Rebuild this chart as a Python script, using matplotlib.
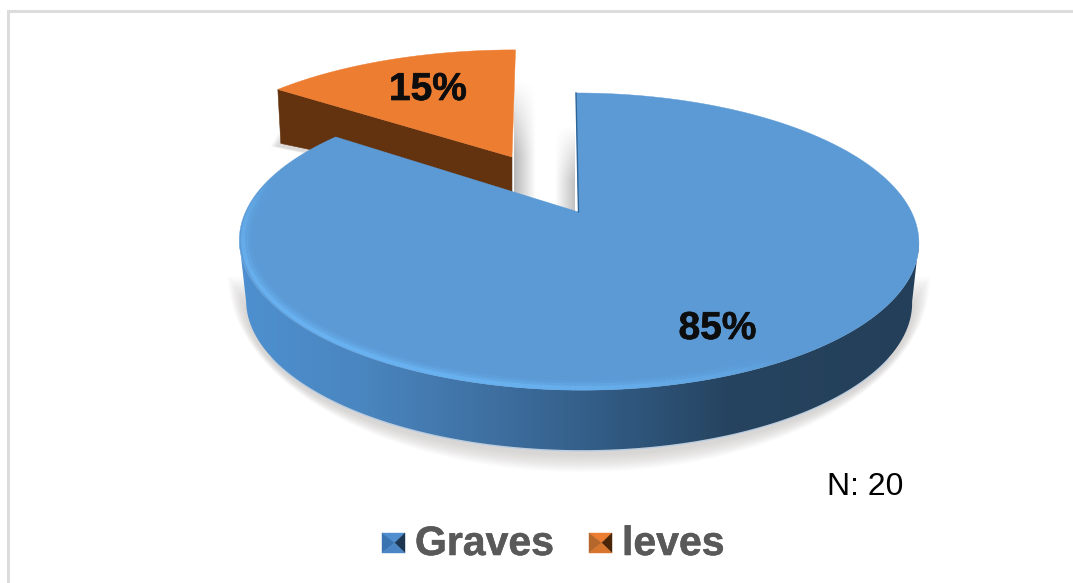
import numpy as np
import matplotlib
matplotlib.use("Agg")
import matplotlib.pyplot as plt
from matplotlib.patches import Polygon, Rectangle
from matplotlib.collections import LineCollection
from matplotlib.colors import LinearSegmentedColormap
import matplotlib.patheffects as pe

categories = ["Graves", "leves"]
percentages = [85, 15]
sample_label = "N: 20"

W, H = 1073, 583
fig = plt.figure(figsize=(W / 100, H / 100), dpi=100, facecolor="white")
ax = fig.add_axes([0, 0, 1, 1])
plt.rcParams["font.family"] = ["Liberation Sans", "DejaVu Sans"]

# projection of the pie plane onto the picture
CX, CY, RX, RY, K = 578.5, 212.0, 333.0, 142.7, 0.199


def project(theta, r=1.0):
    u, v = r * np.sin(theta), r * np.cos(theta)
    w = 1 + K * v
    return CX + RX * u / w - 3 * v / w, CY - RY * v / w


def wedge(start, stop, n=160):
    t = np.radians(np.linspace(start, stop, n))
    return project(t)


def orange_map(x, y):
    return (CX - 66.5 + (x - CX) * 0.98 + (CY - y) * 0.05,
            CY - 55 + (y - CY) * 0.90)


def soft_shadow(x, y, dy, steps, grow, alpha, color="#6e6a66", z=1):
    mx, my = x.mean(), y.mean()
    for i in range(steps):
        g = grow * (1 - i / steps)
        sx = mx + (x - mx) * (1 + g / (x.max() - mx))
        sy = my + (y - my) * (1 + g / (y.max() - my)) + dy
        ax.add_patch(Polygon(np.c_[sx, sy], closed=True, fc=color, ec="none",
                             alpha=alpha, zorder=z))


def fade_patch(x0, x1, y0, y1, peak, z=2):
    """Soft grey cast shadow: darkest at the x1 edge, fading upward and toward x0."""
    gx = np.linspace(0, 1, 40)[None, :]
    gy = np.clip(np.linspace(0, 1.6, 40), 0, 1)[:, None]
    rgba = np.ones((40, 40, 4)) * 0.6
    rgba[..., 3] = peak * gx * gy
    ax.imshow(rgba, extent=(x0, x1, y1, y0), aspect="auto", zorder=z, interpolation="bilinear")


def icon(x0, y0, w, h, top, left, right, bottom, z=8):
    c = (x0 + w * 0.55, y0 + h * 0.5)
    a, b, d, e = (x0, y0), (x0 + w, y0), (x0 + w, y0 + h), (x0, y0 + h)
    for pts, col in [((a, b, c), top), ((a, e, c), left),
                     ((b, d, c), right), ((e, d, c), bottom)]:
        ax.add_patch(Polygon(pts, closed=True, fc=col, ec=col, lw=0.3, zorder=z))


total = sum(percentages)
split = 360.0 * percentages[0] / total  # graves runs clockwise from the top

# frame
ax.add_patch(Rectangle((7.5, 10.5), W + 20, H + 20, fc="white", ec="#dcdcdc", lw=2.2, zorder=0))

# ---- leves slice
tx, ty = wedge(split, 360)
ox, oy = orange_map(tx, ty)
tipx, tipy = orange_map(np.array([CX]), np.array([CY]))
top_o = np.r_[ox, tipx]
top_oy = np.r_[oy, tipy]
soft_shadow(np.r_[ox[0], tipx[0], ox[0] + 30], np.r_[oy[0] + 54, tipy[0] + 30, oy[0] + 10] + 3,
            0, 10, 12, 0.022, z=1)
front = np.array([[ox[0], oy[0]], [tipx[0], tipy[0]],
                  [tipx[0] + 0.0, tipy[0] + 35], [ox[0] + 3, oy[0] + 54]])
ax.add_patch(Polygon(front, closed=True, fc="#63330f", ec="#63330f", lw=0.4, zorder=3))
ax.add_patch(Polygon(np.c_[top_o, top_oy], closed=True, fc="#ed7d31", ec="#ed7d31", lw=0.3, zorder=4))

# ---- cast shadows in the opening
fade_patch(555, 575, 125, 215, 0.6)
fade_patch(536, 514, 80, 200, 0.7)

# ---- graves slice
rx, ry = wedge(0, split, 300)
side_t = np.radians(np.linspace(101.5, 258.5, 300))
sx, sy = project(side_t)
bx = CX + (sx - CX) * 0.98
by = sy + 60
soft_shadow(bx, by, 4, 16, 18, 0.016, z=2.5)
side_poly = Polygon(np.c_[np.r_[sx, bx[::-1]], np.r_[sy, by[::-1]]], closed=True,
                    fc="none", ec="none", zorder=5)
ax.add_patch(side_poly)
cmap = LinearSegmentedColormap.from_list("side", [
    (0.0, "#4e90d0"), (0.18, "#4a86c0"), (0.36, "#3f71a3"),
    (0.55, "#315a82"), (0.72, "#264460"), (1.0, "#243f59")])
grad = np.linspace(0, 1, 512).reshape(1, -1)
img = ax.imshow(grad, extent=(238, 920, 480, 130), cmap=cmap, aspect="auto", zorder=5)
img.set_clip_path(side_poly)

# pale fringe at the foot of the side
ax.plot(bx[40:260], by[40:260] + 0.8, color="#a9c7e6", lw=0.9, alpha=0.7, zorder=4.9)

top_x = np.r_[rx, CX]
top_y = np.r_[ry, CY]
ax.add_patch(Polygon(np.c_[top_x, top_y], closed=True, fc="#5b9ad5", ec="#5b9ad5", lw=0.3, zorder=6))

# inner wall line
ax.plot([rx[0], CX], [ry[0], CY], color="#2f6596", lw=1.0, zorder=6.5)

# light bevel along the front-left rim, soft and tapering away at both ends
bt = np.radians(np.linspace(283, 150, 220))
for r, lw, al in [(0.980, 7.0, 0.18), (0.985, 5.0, 0.30), (0.990, 3.0, 0.60)]:
    bxs, bys = project(bt, r)
    segs = [[(bxs[i], bys[i]), (bxs[i + 1], bys[i + 1])] for i in range(len(bxs) - 1)]
    env = np.sin(np.linspace(0.0, np.pi, len(segs))) ** 0.6
    cols = [(0.43, 0.73, 0.98, al * e) for e in env]
    ax.add_collection(LineCollection(segs, colors=cols, linewidths=lw, capstyle="butt", zorder=7))

# labels on the slices
stroke = [pe.withStroke(linewidth=0.5, foreground="#111111")]
ax.text(717.5, 329, f"{percentages[0]}%", fontsize=28, fontweight="bold", color="#0d0d0d",
        ha="center", va="center", zorder=9, path_effects=stroke)
ax.text(428, 90, f"{percentages[1]}%", fontsize=28, fontweight="bold", color="#0d0d0d",
        ha="center", va="center", zorder=9, path_effects=stroke)

# sample note
ax.text(865.5, 495, sample_label, fontsize=23, color="#000000", ha="center", va="baseline", zorder=9)

# legend
icon(382, 533, 23, 20, "#4f8fd0", "#3a74b0", "#1c3550", "#4a86c4")
icon(589, 533, 23, 20, "#ed7d31", "#b5662a", "#4a2508", "#d8752c")
lw_stroke = [pe.withStroke(linewidth=0.4, foreground="#595959")]
ax.text(415, 555, categories[0], fontsize=29.5, fontweight="bold", color="#595959",
        ha="left", va="baseline", zorder=9, path_effects=lw_stroke)
ax.text(622, 555, categories[1], fontsize=29.5, fontweight="bold", color="#595959",
        ha="left", va="baseline", zorder=9, path_effects=lw_stroke)

ax.set_xlim(0, W)
ax.set_ylim(H, 0)
ax.axis("off")
fig.savefig("out.png", dpi=100, facecolor="white")
